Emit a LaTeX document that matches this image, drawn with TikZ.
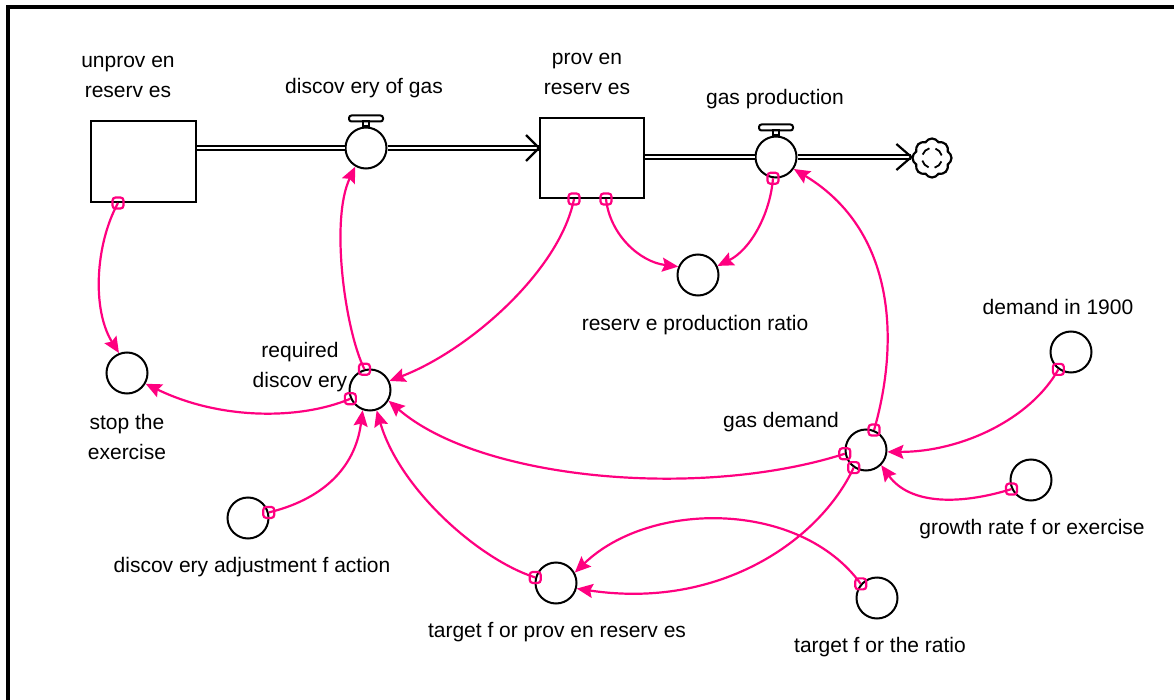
\documentclass[tikz,border=0pt]{standalone}
\usepackage{fontspec}
\setmainfont{Liberation Sans}
\usetikzlibrary{arrows.meta,shapes.symbols}
\definecolor{lnk}{RGB}{255,0,128}
\begin{document}
\begin{tikzpicture}[x=1pt,y=-1pt,
  lbl/.style={font=\fontsize{21}{30.5}\selectfont, align=center, inner sep=0pt},
  aux/.style={circle, draw, line width=2pt, minimum size=41pt, inner sep=0pt},
  stock/.style={rectangle, draw, line width=2pt, inner sep=0pt},
  valve/.style={circle, draw, line width=2pt, minimum size=41pt, inner sep=0pt},
  pipe/.style={draw, line width=1.8pt, double=white, double distance=2.2pt},
  chev/.style={draw, line width=2.2pt},
  conn/.style={draw=lnk, line width=2.2pt, -{Stealth[length=16pt,width=14pt,inset=2.5pt]}},
  mk/.style={draw=lnk, line width=2.2pt, rectangle, rounded corners=3pt, minimum size=11pt, inner sep=0pt},
]
\useasboundingbox (0,0) rectangle (1174,700);
\fill[white] (0,0) rectangle (1174,700);
\fill[black] (6,5) rectangle (10,700);
\fill[black] (6,5) rectangle (1174,9);

% stocks
\node[stock, minimum width=105pt, minimum height=81pt] (ur) at (143.5,161.5) {};
\node[stock, minimum width=104pt, minimum height=80pt] (pr) at (592,158) {};

% valves
\node[valve] (v1) at (366,148) {};
\node[valve] (v2) at (776,157) {};
\foreach \v in {v1,v2}{
  \draw[line width=2pt] (\v.north) ++(-3,0) rectangle ++(6,-5);
  \draw[line width=2pt, rounded corners=2.5pt] (\v.north) ++(-17,-5) rectangle ++(34,-6);
}

% cloud
\node[cloud, draw, line width=2.2pt, cloud puffs=8, cloud puff arc=120, aspect=1,
      minimum width=39pt, minimum height=39pt, inner sep=0pt] (cl) at (932,158) {};
\foreach \a in {20,110,200,290}{
  \draw[line width=1.8pt] (cl.center) ++(\a:10) arc[start angle=\a, end angle=\a+55, radius=10];
}

% pipes
\draw[pipe] (v1.west -| ur.east) -- (v1.west);
\draw[pipe] (v1.east) -- (v1.east -| pr.west);
\draw[chev] (v1.east -| pr.west) ++(-13,-13) -- ++(13,13) -- ++(-13,13);
\draw[pipe] (v2.west -| pr.east) -- (v2.west);
\draw[pipe] (v2.east) -- (v2.east -| cl.west);
\draw[chev] (v2.east -| cl.west) ++(-15,-13) -- ++(15,13) -- ++(-15,13);

% auxiliaries
\node[aux] (st) at (127,373) {};
\node[aux] (rd) at (370,390) {};
\node[aux] (rp) at (698,275) {};
\node[aux] (dm) at (1071,352) {};
\node[aux] (gd) at (866,450) {};
\node[aux] (gr) at (1031,480) {};
\node[aux] (da) at (248,518) {};
\node[aux] (tp) at (556,583) {};
\node[aux] (tr) at (877,598) {};

% labels
\node[lbl] (l1) at (128,77) {unprov en\\reserv es};
\node[lbl] (l2) at (364,88) {discov ery of gas};
\node[lbl] (l3) at (587,74) {prov en\\reserv es};
\node[lbl] (l4) at (775,99) {gas production};
\node[lbl] (l5) at (695,325) {reserv e production ratio};
\node[lbl] (l6) at (1058,307) {demand in 1900};
\node[lbl] (l7) at (300,367) {required\\discov ery};
\node[lbl] (l8) at (127,437) {stop the\\exercise};
\node[lbl] (l9) at (781,422) {gas demand};
\node[lbl] (l10) at (1032,529) {growth rate f or exercise};
\node[lbl] (l11) at (252,567) {discov ery adjustment f action};
\node[lbl] (l12) at (557,632) {target f or prov en reserv es};
\node[lbl] (l13) at (880,647) {target f or the ratio};

% connectors
\draw[conn] ([xshift=-25.5pt]ur.south) node[mk]{} .. controls (95,245) and (92,310) .. (st.112);
\draw[conn] (rd.105) node[mk]{} .. controls (345,330) and (330,220) .. (v1.240);
\draw[conn] ([xshift=-18pt]pr.south) node[mk]{} .. controls (560,270) and (470,350) .. (rd.25);
\draw[conn] ([xshift=14pt]pr.south) node[mk]{} .. controls (610,235) and (640,262) .. (rp.157);
\draw[conn] (v2.262) node[mk]{} .. controls (770,215) and (750,250) .. (rp.25);
\draw[conn] (gd.68) node[mk]{} .. controls (900,340) and (895,230) .. (v2.326);
\draw[conn] (rd.204) node[mk]{} .. controls (300,420) and (220,420) .. (st.330);
\draw[conn] (gd.190) node[mk]{} .. controls (700,500) and (480,480) .. (rd.330);
\draw[conn] (dm.234) node[mk]{} .. controls (1030,420) and (960,452) .. (gd.355);
\draw[conn] (gr.205) node[mk]{} .. controls (960,505) and (910,505) .. (gd.315);
\draw[conn] (da.15) node[mk]{} .. controls (320,500) and (355,470) .. (rd.250);
\draw[conn] (tp.165) node[mk]{} .. controls (480,560) and (400,490) .. (rd.288);
\draw[conn] (gd.235) node[mk]{} .. controls (820,540) and (720,610) .. (tp.345);
\draw[conn] (tr.139) node[mk]{} .. controls (800,500) and (650,500) .. (tp.29);
\end{tikzpicture}
\end{document}
